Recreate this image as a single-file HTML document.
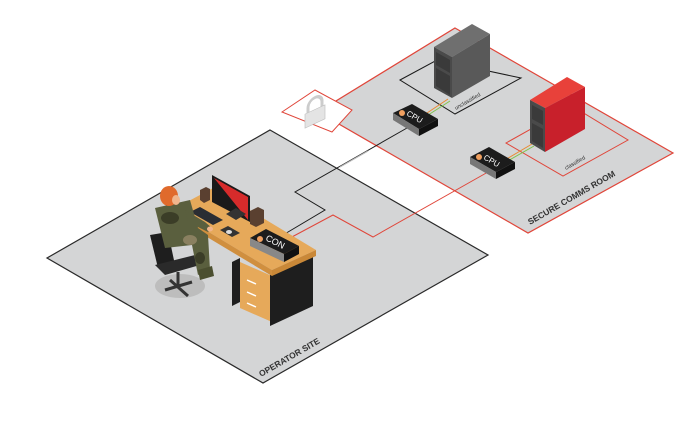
<!DOCTYPE html>
<html><head><meta charset="utf-8"><style>
html,body{margin:0;padding:0;background:#fff;width:690px;height:443px;overflow:hidden}
svg{display:block}
text{font-family:"Liberation Sans",sans-serif}
</style></head><body>
<svg width="690" height="443" viewBox="0 0 690 443">
<!-- secure room -->
<polygon points="455,28 673,153 528,233 318,112" fill="#d4d5d6" stroke="#e0463a" stroke-width="1.2"/>
<!-- operator site -->
<polygon points="270,130 488,255 263,383 47,258" fill="#d4d5d6" stroke="#2a2a2a" stroke-width="1.2"/>
<!-- lock box -->
<polygon points="282,112 315,90 352,110 332,132" fill="#fff" stroke="#e0463a" stroke-width="1"/>
<g transform="translate(316,111) skewY(-25)">
<path d="M-8,-2 v-5 a7,7 0 0 1 14,0 v5" fill="none" stroke="#ccc" stroke-width="3"/>
<rect x="-11" y="-2" width="20" height="14" fill="#e4e4e4" stroke="#bbb" stroke-width="0.6"/>
</g>
<!-- unclassified zone -->
<polygon points="400,80 437,60 521,78 455,114" fill="none" stroke="#1a1a1a" stroke-width="1"/>
<polygon points="400,80 440,58 521,78 455,114" fill="none" stroke="#1a1a1a" stroke-width="0"/>
<!-- classified zone -->
<polygon points="506,143 572,106 628,140 563,176" fill="none" stroke="#e0463a" stroke-width="1"/>
<text x="0" y="0" font-size="5.5" fill="#333" transform="translate(456,110) rotate(-30)">unclassified</text>
<text x="0" y="0" font-size="5.5" fill="#333" transform="translate(566,170) rotate(-30)">classified</text>
<!-- cables -->
<polyline points="283,235 325,210 295,192 407,128" fill="none" stroke="#1a1a1a" stroke-width="1"/>
<line x1="340" y1="167" x2="368" y2="151" stroke="#bbb" stroke-width="1.2"/>
<polyline points="290,238 333,215 373,237 488,172" fill="none" stroke="#e0463a" stroke-width="1"/>
<line x1="424" y1="115" x2="448" y2="99" stroke="#e98a2e" stroke-width="1"/>
<line x1="425" y1="117" x2="450" y2="101" stroke="#7ec24a" stroke-width="1"/>
<line x1="505" y1="160" x2="532" y2="144" stroke="#e98a2e" stroke-width="1"/>
<line x1="506" y1="162" x2="534" y2="146" stroke="#7ec24a" stroke-width="1"/>
<!-- grey server -->
<polygon points="434,47 472,24 490,34 452,57" fill="#6f6f6f"/>
<polygon points="434,47 452,57 452,98 434,88" fill="#4a4a4a"/>
<polygon points="452,57 490,34 490,76 452,98" fill="#595959"/>
<polygon points="436,52 450,60 450,73 436,65" fill="#3a3a3a"/>
<polygon points="436,68 450,76 450,95 436,86" fill="#3a3a3a"/>
<!-- red server -->
<polygon points="530,100 567,77 585,87 545,108" fill="#e8413a"/>
<polygon points="530,100 545,108 545,152 530,143" fill="#4a4a4a"/>
<polygon points="545,108 585,87 585,129 545,152" fill="#c8202b"/>
<polygon points="532,105 543,111 543,125 532,119" fill="#3a3a3a"/>
<polygon points="532,123 543,129 543,148 532,141" fill="#3a3a3a"/>
<!-- CPU 1 -->
<polygon points="393,113 412,104 438,119 419,129" fill="#1c1c1c"/>
<polygon points="393,113 419,129 419,136 393,120" fill="#777"/>
<polygon points="419,129 438,119 438,126 419,136" fill="#111"/>
<circle cx="402" cy="113" r="3" fill="#f0a060"/>
<text font-size="8" fill="#fff" transform="translate(406,115) rotate(30)">CPU</text>
<!-- CPU 2 -->
<polygon points="470,157 489,147 515,162 496,172" fill="#1c1c1c"/>
<polygon points="470,157 496,172 496,179 470,164" fill="#777"/>
<polygon points="496,172 515,162 515,169 496,179" fill="#111"/>
<circle cx="479" cy="157" r="3" fill="#f0a060"/>
<text font-size="8" fill="#fff" transform="translate(483,159) rotate(30)">CPU</text>
<!-- labels -->
<text font-size="8.5" font-weight="bold" fill="#333" transform="translate(530,225) rotate(-30)">SECURE COMMS ROOM</text>
<text font-size="8.5" font-weight="bold" fill="#333" transform="translate(261,377) rotate(-30)">OPERATOR SITE</text>
<!-- chair shadow -->
<ellipse cx="180" cy="286" rx="25" ry="12" fill="#bdbdbd"/>
<!-- desk -->
<polygon points="232,262 240,258 240,302 232,306" fill="#1e1e1e"/>
<polygon points="240,262 272,276 272,322 240,308" fill="#e6a95a"/>
<line x1="247" y1="280" x2="256" y2="284" stroke="#fff" stroke-width="1.5"/>
<line x1="247" y1="292" x2="256" y2="296" stroke="#fff" stroke-width="1.5"/>
<line x1="247" y1="303" x2="256" y2="307" stroke="#fff" stroke-width="1.5"/>
<polygon points="270,272 313,252 313,306 270,326" fill="#1e1e1e"/>
<polygon points="172,210 213,188 316,250 272,270" fill="#e6a95a"/>
<polygon points="172,210 272,270 272,276 172,216" fill="#d08f3f"/>
<polygon points="272,270 316,250 316,256 272,276" fill="#c98838"/>
<!-- monitor -->
<polygon points="212,175 250,196 250,222 212,202" fill="#1a1a1a"/>
<polygon points="214,178 248,197 248,220" fill="#d62b2b"/>
<polygon points="226,214 236,208 246,214 236,220" fill="#333"/>
<!-- speakers -->
<polygon points="250,211 258,207 264,210 264,223 256,227 250,224" fill="#5a4030"/>
<polygon points="200,190 206,187 210,189 210,200 204,203 200,200" fill="#5a4030"/>
<!-- keyboard, mouse pad -->
<polygon points="190,212 200,207 223,220 213,225" fill="#2a2d33"/>
<polygon points="220,230 228,226 240,233 232,237" fill="#333"/>
<ellipse cx="229" cy="232" rx="3" ry="2" fill="#ddd"/>
<!-- CON box -->
<polygon points="250,238 266,229 299,246 284,254" fill="#1c1c1c"/>
<polygon points="250,238 284,254 284,262 250,246" fill="#888"/>
<polygon points="284,254 299,246 299,254 284,262" fill="#111"/>
<circle cx="260" cy="239" r="3" fill="#f0a060"/>
<text font-size="9" fill="#fff" transform="translate(265,240) rotate(27)">CON</text>
<!-- chair -->
<polygon points="150,235 168,232 175,265 158,268" fill="#1e1e1e"/>
<polygon points="155,265 195,255 200,265 165,275" fill="#2a2a2a"/>
<line x1="178" y1="272" x2="178" y2="285" stroke="#333" stroke-width="3"/>
<line x1="165" y1="290" x2="192" y2="282" stroke="#333" stroke-width="3"/>
<line x1="170" y1="280" x2="188" y2="296" stroke="#333" stroke-width="3"/>
<!-- person -->
<polygon points="155,208 190,200 198,228 208,235 210,270 198,275 192,245 165,248" fill="#5a5f3e"/>
<ellipse cx="170" cy="218" rx="9" ry="6" fill="#3b3d27"/>
<ellipse cx="190" cy="240" rx="7" ry="5" fill="#8a8060"/>
<ellipse cx="200" cy="258" rx="5" ry="6" fill="#3b3d27"/>
<polygon points="185,210 205,222 212,228 208,232 188,222" fill="#5a5f3e"/>
<ellipse cx="210" cy="229" rx="3" ry="2.5" fill="#f0b58c"/>
<ellipse cx="169" cy="196" rx="9" ry="10" fill="#e06a2c"/>
<ellipse cx="176" cy="200" rx="4" ry="5" fill="#f0b58c"/>
<polygon points="198,270 212,266 214,276 200,280" fill="#4b4f30"/>
</svg>
</body></html>
